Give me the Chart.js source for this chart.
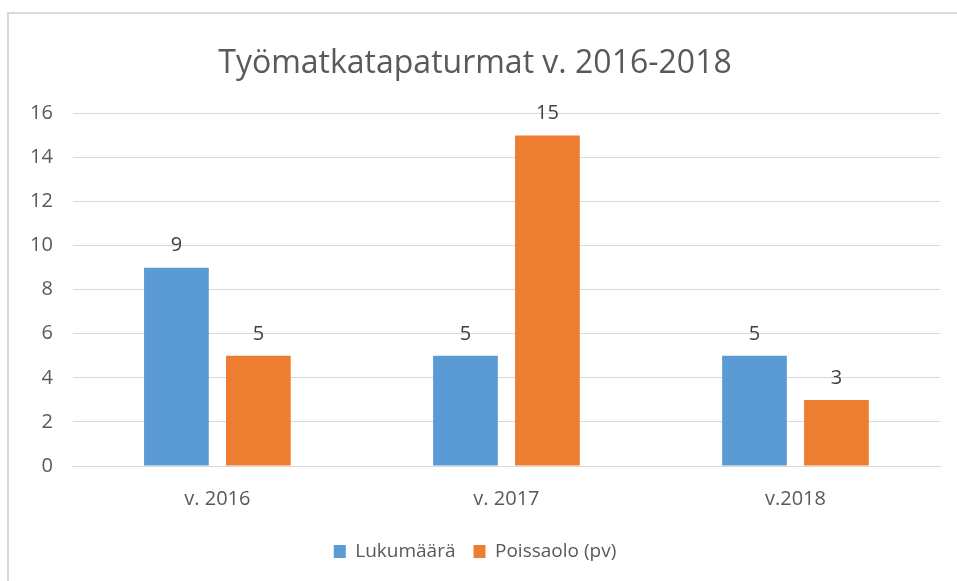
<!DOCTYPE html>
<html>
<head>
<meta charset="utf-8">
<script src="https://cdn.jsdelivr.net/npm/chart.js@4/dist/chart.umd.min.js"></script>
<style>
  body { margin: 0; background: #fff; }
  #frame { position: absolute; left: 7px; top: 12px; width: 960px; height: 580px; border: 2px solid #d9d9d9; box-sizing: border-box; }
  #wrap { position: absolute; left: 0; top: 0; width: 957px; height: 581px; }
</style>
</head>
<body>
<div id="frame"></div>
<div id="wrap"><canvas id="chart"></canvas></div>
<script>
const categories = ["v. 2016", "v. 2017", "v.2018"]
const lukumaara = [9, 5, 5]
const poissaolo = [5, 15, 3]
const yTicks = [0, 2, 4, 6, 8, 10, 12, 14, 16]

const fontFamily = "'Open Sans', sans-serif"

// draw the value above each bar
const valueLabels = {
    id: "valueLabels",
    afterDatasetsDraw(chart) {
        const ctx = chart.ctx
        ctx.save()
        ctx.font = "20px " + fontFamily
        ctx.fillStyle = "#404040"
        ctx.textAlign = "center"
        ctx.textBaseline = "bottom"
        chart.data.datasets.forEach((ds, i) => {
            chart.getDatasetMeta(i).data.forEach((bar, j) => {
                ctx.fillText(ds.data[j], bar.x, bar.y - 12)
            })
        })
        ctx.restore()
    }
}

new Chart(document.getElementById("chart"), {
    type: "bar",
    data: {
        labels: categories,
        datasets: [
            {
                label: "Lukumäärä",
                data: lukumaara,
                backgroundColor: "#5b9bd5",
                categoryPercentage: 0.567,
                barPercentage: 0.79
            },
            {
                label: "Poissaolo (pv)",
                data: poissaolo,
                backgroundColor: "#ed7d31",
                categoryPercentage: 0.567,
                barPercentage: 0.79
            }
        ]
    },
    options: {
        responsive: true,
        maintainAspectRatio: false,
        animation: false,
        layout: { padding: { left: 10, right: 17, top: 45, bottom: 10 } },
        plugins: {
            title: {
                display: true,
                text: "Työmatkatapaturmat v. 2016-2018",
                color: "#595959",
                font: { family: fontFamily, size: 32, weight: "normal" },
                padding: { top: 0, bottom: 30 }
            },
            legend: {
                position: "bottom",
                labels: {
                    color: "#595959",
                    font: { family: fontFamily, size: 19 },
                    boxWidth: 12,
                    boxHeight: 13,
                    padding: 18
                }
            },
            tooltip: { enabled: false }
        },
        scales: {
            x: {
                grid: { display: false },
                border: { color: "#d9d9d9" },
                ticks: {
                    color: "#595959",
                    font: { family: fontFamily, size: 20 },
                    padding: 13
                }
            },
            y: {
                min: 0,
                max: 16,
                afterBuildTicks: axis => { axis.ticks = yTicks.map(v => ({ value: v })) },
                grid: { color: "#d9d9d9", drawTicks: false },
                border: { display: false },
                ticks: {
                    color: "#595959",
                    font: { family: fontFamily, size: 20 },
                    padding: 20
                }
            }
        }
    },
    plugins: [valueLabels]
})
</script>
</body>
</html>
